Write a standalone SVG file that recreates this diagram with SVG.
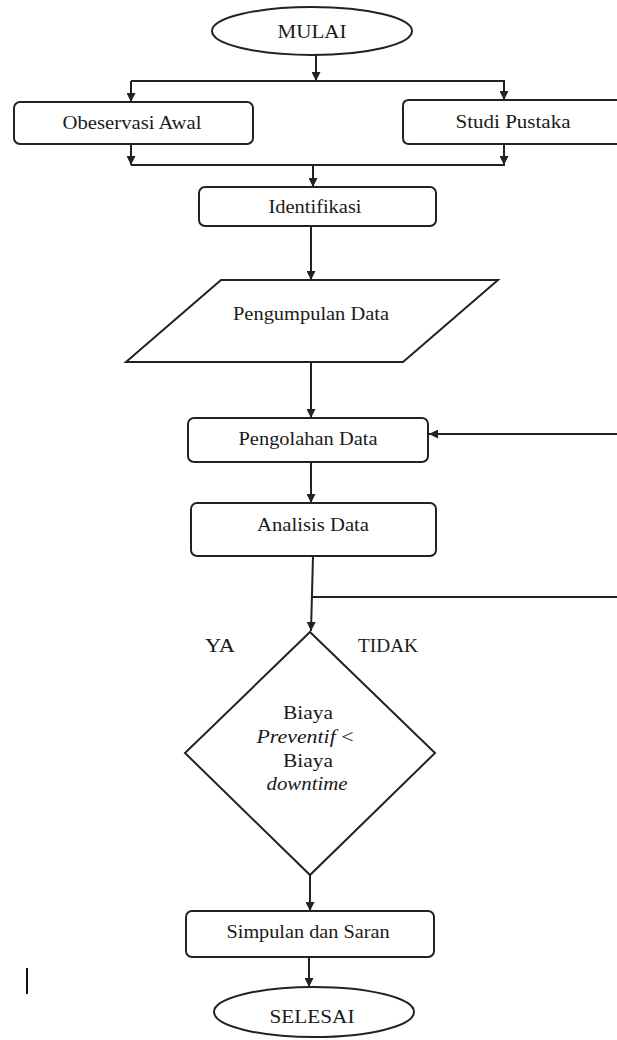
<svg xmlns="http://www.w3.org/2000/svg" width="617" height="1040" viewBox="0 0 617 1040">
<style>
.box{fill:#fff;stroke:#222;stroke-width:2}
.ln{fill:none;stroke:#222;stroke-width:2}
.arr{fill:none;stroke:#222;stroke-width:2;marker-end:url(#ah)}
text{font-family:"Liberation Serif","Times New Roman",serif;font-size:19px;fill:#1a1a1a;text-anchor:middle}
.it{font-style:italic}
</style>
<defs>
<marker id="ah" viewBox="0 0 10 10" refX="10" refY="5" markerWidth="4.5" markerHeight="4.5" orient="auto">
<path d="M0,0 L10,5 L0,10 Z" fill="#222"/>
</marker>
</defs>
<rect width="617" height="1040" fill="#fff"/>
<g id="connectors">
<path class="arr" d="M316,55 V81"/>
<path class="ln" d="M131,81 H505"/>
<path class="arr" d="M131,81 V102"/>
<path class="arr" d="M504,81 V100"/>
<path class="arr" d="M131,144 V165"/>
<path class="arr" d="M504,144 V165"/>
<path class="ln" d="M131,165 H505"/>
<path class="arr" d="M313,165 V187"/>
<path class="arr" d="M311,226 V280"/>
<path class="arr" d="M311,362 V418"/>
<path class="arr" d="M311,462 V503"/>
<path class="arr" d="M313,556 L311,631"/>
<path class="ln" d="M312,597 H617"/>
<path class="arr" d="M617,434 H429"/>
<path class="arr" d="M310,875 V911"/>
<path class="arr" d="M309,957 V987"/>
</g>
<g id="mulai">
<ellipse class="box" cx="312" cy="31" rx="100" ry="24"/>
<text x="312" y="38" textLength="69" lengthAdjust="spacingAndGlyphs">MULAI</text>
</g>
<g id="observasi">
<rect class="box" x="14" y="102" width="239" height="42" rx="6"/>
<text x="132" y="129" textLength="139" lengthAdjust="spacingAndGlyphs">Obeservasi Awal</text>
</g>
<g id="studi">
<path class="box" d="M617,100 H409 Q403,100 403,106 V138 Q403,144 409,144 H617"/>
<text x="513" y="128" textLength="115" lengthAdjust="spacingAndGlyphs">Studi Pustaka</text>
</g>
<g id="identifikasi">
<rect class="box" x="199" y="187" width="237" height="39" rx="6"/>
<text x="315" y="213" textLength="93" lengthAdjust="spacingAndGlyphs">Identifikasi</text>
</g>
<g id="pengumpulan">
<polygon class="box" points="221,280 498,280 403,362 126,362"/>
<text x="311" y="320" textLength="156" lengthAdjust="spacingAndGlyphs">Pengumpulan Data</text>
</g>
<g id="pengolahan">
<rect class="box" x="188" y="418" width="240" height="44" rx="6"/>
<text x="308" y="445" textLength="139" lengthAdjust="spacingAndGlyphs">Pengolahan Data</text>
</g>
<g id="analisis">
<rect class="box" x="191" y="503" width="245" height="53" rx="6"/>
<text x="313" y="531" textLength="112" lengthAdjust="spacingAndGlyphs">Analisis Data</text>
</g>
<g id="keputusan">
<polygon class="box" points="310,632 435,753 310,875 185,753"/>
<text x="308" y="719" textLength="50" lengthAdjust="spacingAndGlyphs">Biaya</text>
<text x="305" y="743" textLength="97" lengthAdjust="spacingAndGlyphs"><tspan class="it">Preventif</tspan> &lt;</text>
<text x="308" y="767" textLength="50" lengthAdjust="spacingAndGlyphs">Biaya</text>
<text class="it" x="307" y="790" textLength="81" lengthAdjust="spacingAndGlyphs">downtime</text>
</g>
<g id="labels">
<text x="220" y="652" textLength="30" lengthAdjust="spacingAndGlyphs">YA</text>
<text x="388" y="652" textLength="60" lengthAdjust="spacingAndGlyphs">TIDAK</text>
</g>
<g id="simpulan">
<rect class="box" x="186" y="911" width="248" height="46" rx="6"/>
<text x="308" y="938" textLength="163" lengthAdjust="spacingAndGlyphs">Simpulan dan Saran</text>
</g>
<g id="selesai">
<ellipse class="box" cx="314" cy="1012" rx="100" ry="25"/>
<text x="312" y="1023" textLength="85" lengthAdjust="spacingAndGlyphs">SELESAI</text>
</g>
<path d="M27,968 V994" stroke="#111" stroke-width="2"/>
</svg>
